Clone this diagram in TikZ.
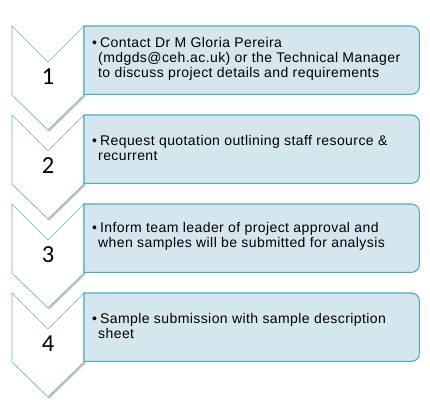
\documentclass[tikz,border=0pt]{standalone}
\usepackage{fontspec}
\setmainfont{Liberation Sans}[LetterSpace=3]
\newfontfamily\numfont{Carlito}
\definecolor{boxfill}{HTML}{D6E6EE}
\definecolor{boxline}{HTML}{4BACC6}
\definecolor{chevline}{HTML}{6BB5CB}
\tikzset{
  boxslot/.style={minimum width=335bp, minimum height=68bp, inner sep=0pt, anchor=north west},
  boxedge/.style={draw=boxline, fill=boxfill, line width=1.1pt},
  chevedge/.style={draw=chevline, fill=white, line width=0.6pt},
  chevshadow/.style={fill=black, opacity=0.14},
  numtxt/.style={font=\numfont\fontsize{24.5bp}{27bp}\selectfont, inner sep=0pt},
  bodytxt/.style={font=\fontsize{14bp}{15bp}\selectfont, align=left, anchor=west, inner sep=0pt, text=black}
}
\begin{document}
\begin{tikzpicture}[x=1bp,y=1bp]
\useasboundingbox (0,0) rectangle (430,412);
\fill[white] (0,0) rectangle (430,412);
\foreach \i/\txt in {
 1/{\textbullet\hspace{3bp}Contact Dr M Gloria Pereira\\\hspace*{6bp}(mdgds@ceh.ac.uk) or the Technical Manager\\\hspace*{6bp}to discuss project details and requirements},
 2/{\textbullet\hspace{3bp}Request quotation outlining staff resource \&\\\hspace*{6bp}recurrent},
 3/{\textbullet\hspace{3bp}Inform team leader of project approval and\\\hspace*{6bp}when samples will be submitted for analysis},
 4/{\textbullet\hspace{3bp}Sample submission with sample description\\\hspace*{6bp}sheet}}{
  \pgfmathsetmacro{\T}{386-89*(\i-1)}
  \coordinate (c\i) at (12,\T);
  % chevron shadow
  \fill[chevshadow] ([shift={(1.5,-2)}]c\i) -- ++(36,-36) -- ++(36,36) -- ++(0,-69) -- ++(-36,-35) -- ++(-36,35) -- cycle;
  \fill[chevshadow] ([shift={(0.8,-1)}]c\i) -- ++(36,-36) -- ++(36,36) -- ++(0,-69) -- ++(-36,-35) -- ++(-36,35) -- cycle;
  \draw[chevedge] (c\i) -- ++(36,-36) -- ++(36,36) -- ++(0,-69) -- ++(-36,-35) -- ++(-36,35) -- cycle;
  \node[numtxt] (n\i) at (48,\T-51) {\i};
  \node[boxslot] (b\i) at (84,\T) {};
  \draw[boxedge] (b\i.north west) -- ([xshift=-8bp]b\i.north east) arc[start angle=90,end angle=0,radius=8bp]
     -- ([yshift=8bp]b\i.south east) arc[start angle=0,end angle=-90,radius=8bp] -- (b\i.south west) -- cycle;
  \node[bodytxt] (t\i) at ([xshift=8bp,yshift=1.5bp]b\i.west) {\txt};
}
\end{tikzpicture}
\end{document}
